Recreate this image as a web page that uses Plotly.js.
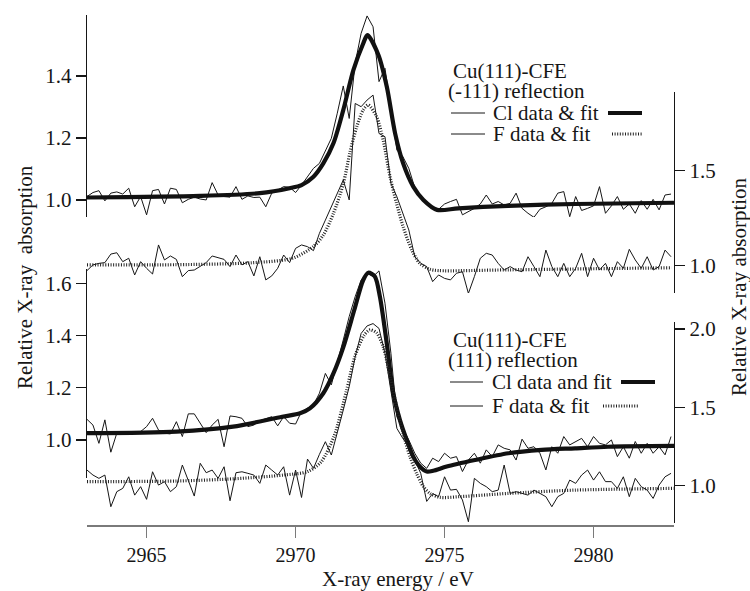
<!DOCTYPE html>
<html>
<head>
<meta charset="utf-8">
<script src="https://cdn.plot.ly/plotly-3.0.1.min.js"></script>
<style>html,body{margin:0;padding:0;background:#fff;}#chart{width:750px;height:591px;}</style>
</head>
<body>
<div id="chart"></div>
<script>
// ---- data ----
const energy = [2963.0,2963.2,2963.4,2963.6,2963.8,2964.0,2964.2,2964.4,2964.6,2964.8,
2965.0,2965.2,2965.4,2965.6,2965.8,2966.0,2966.2,2966.4,2966.6,2966.8,
2967.0,2967.2,2967.4,2967.6,2967.8,2968.0,2968.2,2968.4,2968.6,2968.8,
2969.0,2969.2,2969.4,2969.6,2969.8,2970.0,2970.2,2970.4,2970.6,2970.8,
2971.0,2971.2,2971.4,2971.6,2971.8,2972.0,2972.2,2972.4,2972.6,2972.8,
2973.0,2973.2,2973.4,2973.6,2973.8,2974.0,2974.2,2974.4,2974.6,2974.8,
2975.0,2975.2,2975.4,2975.6,2975.8,2976.0,2976.2,2976.4,2976.6,2976.8,
2977.0,2977.2,2977.4,2977.6,2977.8,2978.0,2978.2,2978.4,2978.6,2978.8,
2979.0,2979.2,2979.4,2979.6,2979.8,2980.0,2980.2,2980.4,2980.6,2980.8,
2981.0,2981.2,2981.4,2981.6,2981.8,2982.0,2982.2,2982.4,2982.6];

// (-111) reflection
const clTopData = [1.011,1.024,1.030,0.997,1.022,1.026,1.019,1.038,0.978,1.011,
0.952,1.030,1.034,0.987,1.038,1.034,0.991,1.002,1.009,1.003,
1.000,1.056,1.016,1.011,1.009,1.043,1.002,1.013,1.008,1.009,
0.978,1.022,1.032,1.043,1.041,1.024,1.048,1.075,1.102,1.118,
1.156,1.199,1.280,1.368,1.263,1.441,1.538,1.594,1.559,1.382,
1.425,1.290,1.161,1.140,1.102,1.040,1.005,0.987,0.973,0.970,
0.987,0.995,1.002,0.952,0.962,0.973,0.987,1.016,0.987,0.995,
0.984,0.989,1.022,0.973,0.957,0.944,0.970,0.978,0.989,1.022,
1.027,0.946,1.011,0.966,0.973,0.981,1.043,0.957,0.981,1.011,
0.970,0.987,0.957,0.998,0.970,1.002,0.968,1.016,1.019];
const clTopFitE = [2963.0,2966.8,2968.8,2969.8,2970.2,2970.6,2970.93,2971.27,2971.6,2971.94,2972.27,2972.41,2972.78,2973.06,2973.34,2973.61,2973.95,2974.29,2974.75,2975.46,2977.14,2979.38,2982.7];
const clTopFit = [1.008,1.013,1.022,1.038,1.048,1.075,1.118,1.183,1.29,1.419,1.505,1.532,1.468,1.366,1.215,1.118,1.043,1.0,0.968,0.973,0.981,0.987,0.991];

const fTopData = [0.974,1.004,1.012,1.016,1.061,1.068,1.021,1.039,0.951,1.021,
0.986,0.956,1.109,1.030,1.051,1.033,0.942,0.974,0.977,0.995,
1.016,1.051,1.044,1.033,0.995,1.056,1.004,1.021,0.946,1.047,
0.925,0.946,0.986,1.056,1.016,1.091,1.109,1.100,1.079,1.170,
1.240,1.311,1.389,1.451,1.346,1.854,1.837,1.872,1.898,1.696,
1.679,1.433,1.363,1.275,1.188,1.047,1.012,0.995,0.916,0.951,
0.933,0.925,0.960,0.968,0.854,0.942,1.039,1.065,1.056,1.012,
0.977,0.995,0.977,0.968,1.047,0.995,0.942,1.082,0.995,0.942,
1.012,0.942,0.986,1.065,0.942,1.039,0.977,1.012,0.942,1.021,
0.986,1.086,1.030,0.986,1.047,0.977,0.995,1.082,1.047];
const fTopFitE = [2963.0,2966.0,2968.5,2969.9,2970.59,2970.93,2971.27,2971.6,2971.83,2972.05,2972.27,2972.44,2972.72,2972.94,2973.17,2973.39,2973.61,2973.9,2974.17,2974.51,2974.8,2977.14,2982.62];
const fTopFit = [1.004,1.005,1.015,1.039,1.10,1.161,1.275,1.43,1.60,1.73,1.82,1.846,1.784,1.661,1.468,1.328,1.205,1.082,1.012,0.981,0.974,0.978,0.989];

// (111) reflection
const clBotData = [1.079,1.057,0.987,1.077,0.953,1.026,1.028,1.026,1.028,1.032,
1.051,1.083,1.038,1.026,1.023,1.070,1.013,1.100,1.100,1.064,
1.028,1.057,1.079,0.974,1.092,1.089,1.083,1.051,1.057,1.074,
1.083,1.089,1.054,1.089,1.064,1.061,1.109,1.121,1.134,1.179,
1.255,1.211,1.294,1.383,1.473,1.549,1.613,1.639,1.626,1.648,
1.524,1.332,1.089,1.045,1.000,0.949,0.911,0.891,0.930,0.917,
0.949,0.930,0.936,0.879,0.923,0.949,0.911,0.962,0.936,0.981,
0.968,0.962,0.923,1.003,0.968,0.974,0.949,0.885,0.974,0.949,
1.013,0.981,0.994,1.006,0.974,1.013,0.987,0.981,1.000,0.936,
0.974,0.930,0.994,0.949,0.987,0.949,0.974,0.943,1.013];
const clBotFitE = [2963.0,2966.0,2967.9,2969.55,2970.15,2970.48,2970.93,2971.27,2971.6,2971.97,2972.27,2972.44,2972.66,2972.83,2973.06,2973.28,2973.5,2973.73,2973.95,2974.17,2974.4,2974.62,2975.07,2976.02,2977.14,2978.26,2979.38,2980.49,2982.7];
const clBotFit = [1.026,1.032,1.051,1.089,1.102,1.121,1.179,1.255,1.355,1.498,1.613,1.641,1.626,1.549,1.370,1.179,1.077,1.0,0.936,0.898,0.879,0.882,0.898,0.923,0.949,0.962,0.968,0.974,0.977];

const fBotData = [1.100,1.068,1.047,1.068,0.866,0.962,0.983,1.057,0.940,0.994,
0.913,1.089,1.004,1.026,0.962,0.994,1.132,1.026,0.934,1.143,
1.083,1.100,1.047,1.121,0.904,1.083,1.089,1.079,1.068,1.015,
1.132,1.100,1.068,1.121,0.940,1.100,0.925,1.170,1.111,1.200,
1.281,1.196,1.334,1.483,1.632,1.823,1.972,2.020,2.035,2.004,
1.845,1.611,1.366,1.302,1.249,1.164,1.079,0.900,0.950,0.930,
1.057,0.972,0.977,0.909,0.770,1.047,1.015,0.994,0.962,0.972,
1.132,0.951,0.962,0.951,0.940,0.972,0.951,0.930,0.866,0.930,
0.951,1.036,1.015,1.068,1.100,1.036,1.089,1.026,1.026,0.983,
1.057,0.930,1.047,0.994,0.972,0.919,1.004,1.057,1.079];
const fBotFitE = [2963.0,2966.0,2968.0,2969.6,2970.4,2970.85,2971.3,2971.7,2972.0,2972.3,2972.5,2972.72,2972.94,2973.17,2973.39,2973.61,2973.84,2974.06,2974.29,2974.51,2974.85,2975.5,2977.14,2979.38,2982.7];
const fBotFit = [1.026,1.030,1.045,1.068,1.09,1.15,1.32,1.60,1.83,1.96,1.995,1.975,1.887,1.696,1.504,1.334,1.185,1.079,0.994,0.951,0.926,0.93,0.951,0.972,0.983];

const xTicks = [2965, 2970, 2975, 2980];
const clTopTicks = [1.0, 1.2, 1.4];
const fTopTicks = [1.0, 1.5];
const clBotTicks = [1.0, 1.2, 1.4, 1.6];
const fBotTicks = [1.0, 1.5, 2.0];

// ---- layout helpers (pixel -> paper) ----
const L = 87, R = 674, T = 10, B = 525;
const fx = px => (px - L) / (R - L);
const fy = py => (B - py) / (B - T);

const SERIF = 'Liberation Serif';
const INK = '#161616';

function yAxis(dom, range, side, ticks) {
  return {
    domain: [fy(dom[1]), fy(dom[0])], range: range, anchor: 'x', side: side,
    showline: true, linecolor: INK, linewidth: 1.3, mirror: false,
    ticks: 'outside', ticklen: 10, tickwidth: 1.3, tickcolor: INK,
    tickvals: ticks, ticktext: ticks.map(v => v.toFixed(1)),
    tickfont: {family: SERIF, size: 21, color: INK},
    showgrid: false, zeroline: false, fixedrange: true
  };
}

const thin = {color: INK, width: 1};
const thick = {color: '#111', width: 4.2, shape: 'spline', smoothing: 0.8};
const dotted = {color: '#222', width: 3.2, dash: '1px,1.6px', shape: 'spline', smoothing: 0.8};

const traces = [
  {x: energy, y: clTopData, yaxis: 'y', mode: 'lines', line: thin},
  {x: clTopFitE, y: clTopFit, yaxis: 'y', mode: 'lines', line: thick},
  {x: energy, y: fTopData, yaxis: 'y2', mode: 'lines', line: thin},
  {x: fTopFitE, y: fTopFit, yaxis: 'y2', mode: 'lines', line: dotted},
  {x: energy, y: clBotData, yaxis: 'y3', mode: 'lines', line: thin},
  {x: clBotFitE, y: clBotFit, yaxis: 'y3', mode: 'lines', line: thick},
  {x: energy, y: fBotData, yaxis: 'y4', mode: 'lines', line: thin},
  {x: fBotFitE, y: fBotFit, yaxis: 'y4', mode: 'lines', line: dotted}
];

function txt(text, px, py, opts) {
  return Object.assign({
    text: text, xref: 'paper', yref: 'paper', x: fx(px), y: fy(py),
    xanchor: 'left', yanchor: 'middle', showarrow: false,
    font: {family: SERIF, size: 21, color: INK}
  }, opts || {});
}
function seg(x0, x1, py, line) {
  return {type: 'line', xref: 'paper', yref: 'paper', x0: fx(x0), x1: fx(x1), y0: fy(py), y1: fy(py), line: line};
}

const annotations = [
  txt('Cu(111)-CFE', 451, 71),
  txt('(-111) reflection', 446, 91),
  txt('Cl data &amp; fit', 491, 113),
  txt('F data &amp; fit', 491, 134),
  txt('Cu(111)-CFE', 451, 340),
  txt('(111) reflection', 446, 360),
  txt('Cl data and fit', 490, 382),
  txt('F data &amp; fit', 490, 406),
  txt('Relative X-ray\u00a0 absorption', 25, 277, {xanchor: 'center', textangle: -90}),
  txt('Relative X-ray absorption', 739, 287, {xanchor: 'center', textangle: -90}),
  txt('X-ray energy / eV', 398, 579, {xanchor: 'center'})
];

const shapes = [
  seg(451, 485, 113, {color: INK, width: 1}),
  seg(608, 642, 113, {color: '#111', width: 4.2}),
  seg(451, 485, 134, {color: INK, width: 1}),
  seg(612, 642, 134, {color: '#222', width: 3.2, dash: '1px,1.6px'}),
  seg(450, 483, 382, {color: INK, width: 1}),
  seg(621, 655, 382, {color: '#111', width: 4.2}),
  seg(450, 483, 406, {color: INK, width: 1}),
  seg(603, 638, 406, {color: '#222', width: 3.2, dash: '1px,1.6px'})
];

const layout = {
  width: 750, height: 591,
  margin: {l: L, r: 750 - R, t: T, b: 591 - B, pad: 0},
  paper_bgcolor: '#fff', plot_bgcolor: 'rgba(0,0,0,0)',
  showlegend: false,
  font: {family: SERIF, color: INK},
  xaxis: {
    domain: [0, 1], range: [2963, 2982.7], anchor: 'free', position: 0,
    showline: true, linecolor: '#7a7a7a', linewidth: 1.5,
    ticks: 'outside', ticklen: 11, tickwidth: 1.5, tickcolor: '#7a7a7a',
    tickvals: xTicks, ticktext: xTicks.map(String),
    tickfont: {family: SERIF, size: 20, color: INK},
    showgrid: false, zeroline: false, fixedrange: true
  },
  yaxis: yAxis([15, 217], [0.945, 1.597], 'left', clTopTicks),
  yaxis2: yAxis([91.7, 293], [0.856, 1.916], 'right', fTopTicks),
  yaxis3: yAxis([269.3, 478.3], [0.853, 1.654], 'left', clBotTicks),
  yaxis4: yAxis([321.7, 523], [0.762, 2.047], 'right', fBotTicks),
  annotations: annotations,
  shapes: shapes
};

Plotly.newPlot('chart', traces, layout, {displayModeBar: false, staticPlot: true});
</script>
</body>
</html>
